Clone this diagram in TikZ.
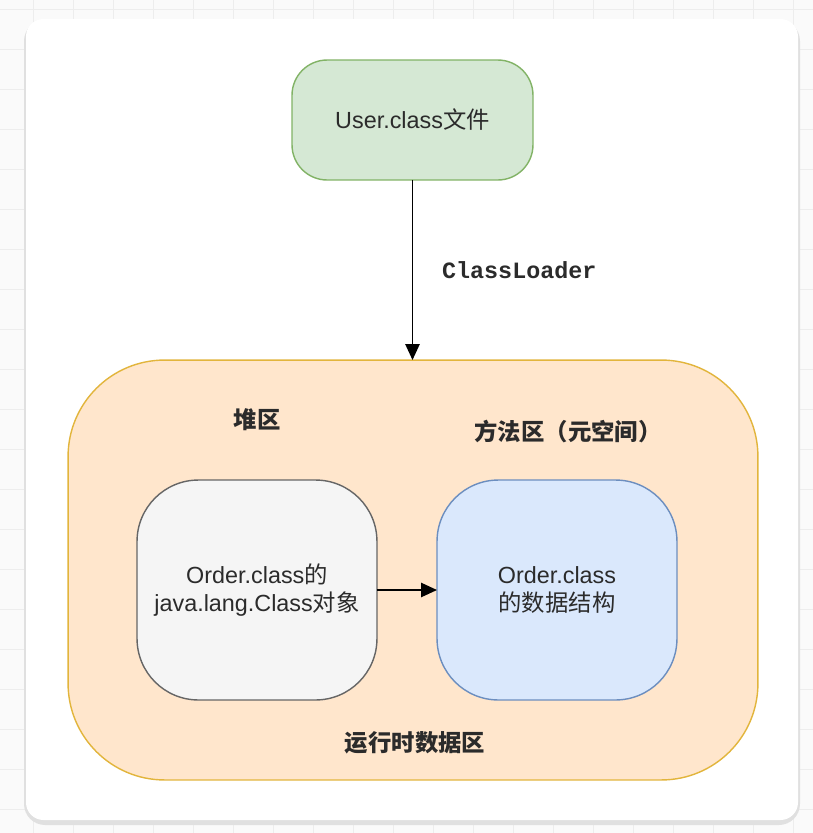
\documentclass[tikz,border=0pt]{standalone}
\usepackage{fontspec}
\setmainfont{Liberation Sans}
\setmonofont{Liberation Mono}
\newfontfamily\cjk{Noto Sans CJK SC}
\usepackage{tikz}
\usetikzlibrary{positioning,arrows.meta,calc}
\definecolor{gridgray}{HTML}{EDEDED}
\definecolor{greenfill}{HTML}{D5E8D4}
\definecolor{greenline}{HTML}{82B366}
\definecolor{orangefill}{HTML}{FFE6CC}
\definecolor{orangeline}{HTML}{E2B53C}
\definecolor{grayfill}{HTML}{F5F5F5}
\definecolor{grayline}{HTML}{666666}
\definecolor{bluefill}{HTML}{DAE8FC}
\definecolor{blueline}{HTML}{6C8EBF}
\definecolor{txt}{HTML}{2B2B2B}
\tikzset{
  box/.style={draw,line width=0.8pt,rounded corners=#1,outer sep=0pt,inner sep=0pt,
    align=center,text=txt,font=\fontsize{13.3}{16}\selectfont},
  lbl/.style={text=txt,font=\fontsize{13.3}{16}\selectfont\cjk\bfseries},
  conn/.style={-{Triangle[length=9pt,width=8pt]},line width=1.1pt,black},
}

\begin{document}
\begin{tikzpicture}[x=0.02cm,y=-0.02cm]
  \useasboundingbox (0,0) rectangle (813,833);
  % page background and grid
  \fill[gray!4] (0,0) rectangle (813,833);
  \foreach \gx in {33,73,...,813} \draw[gridgray,line width=0.5pt] (\gx,0) -- (\gx,833);
  \foreach \gy in {9,49,...,833} \draw[gridgray,line width=0.5pt] (0,\gy) -- (813,\gy);
  % card
  \fill[black!12,rounded corners=12] (24,20) rectangle (800,825);
  \fill[white,rounded corners=10] (26,19) rectangle (798,820);

  \node[box=55,fill=orangefill,draw=orangeline,minimum width=13.8cm,minimum height=8.4cm]
    (rtda) at (413,570) {};
  \node[box=20,fill=greenfill,draw=greenline,minimum width=4.82cm,minimum height=2.4cm]
    (userclass) at (412.5,120) {User.class{\cjk 文件}};
  \node[box=35,fill=grayfill,draw=grayline,minimum width=4.8cm,minimum height=4.4cm]
    (heapobj) at (257,590) {Order.class{\cjk 的}\\java.lang.Class{\cjk 对象}};
  \node[box=35,fill=bluefill,draw=blueline,minimum width=4.8cm,minimum height=4.4cm]
    (methoddata) at (557,590) {Order.class\\{\cjk 的数据结构}};

  \node[lbl] (heaplbl) at (257,420) {堆区};
  \node[lbl] (methodlbl) at (568,432) {方法区（元空间）};
  \node[lbl] (rtdalbl) at (415,743) {运行时数据区};

  \draw[conn] (userclass.south) -- (userclass.south |- rtda.north)
    node[midway,right=13pt,text=txt,font=\fontsize{13.3}{16}\selectfont\ttfamily\bfseries] (loaderlbl) {ClassLoader};
  \draw[conn] (heapobj.east) -- (methoddata.west);
\end{tikzpicture}
\end{document}
